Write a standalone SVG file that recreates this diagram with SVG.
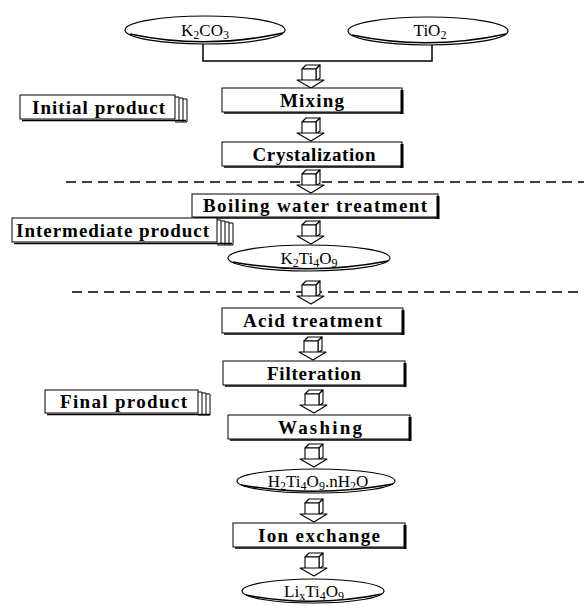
<svg xmlns="http://www.w3.org/2000/svg" width="584" height="606" viewBox="0 0 584 606">
<style>
.bx{fill:#fff;stroke:#000;stroke-width:1}
.sh{fill:none;stroke:#000;stroke-width:3}
.sb{fill:none;stroke:#000;stroke-width:1.6}
.el{fill:#fff;stroke:#000;stroke-width:1.2}
.t{font-family:"Liberation Serif",serif;font-weight:bold;font-size:19px;fill:#000}
.f{font-family:"Liberation Serif",serif;font-size:17px;fill:#000}
.s{font-size:12px}
.ln{fill:none;stroke:#000;stroke-width:1.5}
.dl{fill:none;stroke:#000;stroke-width:1.6;stroke-dasharray:10 6}
.ar{fill:#fff;stroke:#000;stroke-width:1.1;stroke-linejoin:round}
</style>
<defs>
<g id="arrow">
<path class="ar" d="M-9,4 L-5,0 L9,0 L5,4 Z"/>
<path class="ar" d="M5,4 L9,0 L9,13 L5,16 Z"/>
<path class="ar" d="M-9,4 L5,4 L5,16 L-9,16 Z"/>
<path class="ar" d="M-14,15 L13,15 L0,23 Z"/>
</g>
</defs>

<g id="connectors">
<path class="ln" d="M203,44 V61 H432 V45"/>
<line class="dl" x1="66" y1="182" x2="584" y2="182"/>
<line class="dl" x1="72" y1="292" x2="584" y2="292"/>
<use href="#arrow" x="311" y="65"/>
<use href="#arrow" x="311" y="118"/>
<use href="#arrow" x="311" y="170"/>
<use href="#arrow" x="311" y="221"/>
<use href="#arrow" x="311" y="281"/>
<use href="#arrow" x="313" y="337"/>
<use href="#arrow" x="314" y="390"/>
<use href="#arrow" x="314" y="444"/>
<use href="#arrow" x="314" y="499"/>
<use href="#arrow" x="314" y="553"/>
</g>

<g id="k2co3">
<ellipse class="el" cx="205" cy="30" rx="80" ry="14"/>
<path class="sb" d="M130,34 Q205,50 283,33"/>
<text class="f" x="205" y="36" text-anchor="middle">K<tspan class="s" dy="3">2</tspan><tspan dy="-3">CO</tspan><tspan class="s" dy="3">3</tspan></text>
</g>

<g id="tio2">
<ellipse class="el" cx="428" cy="31" rx="80" ry="14"/>
<path class="sb" d="M352,35 Q428,51 506,34"/>
<text class="f" x="430" y="36" text-anchor="middle">TiO<tspan class="s" dy="3">2</tspan></text>
</g>

<g id="initial-product">
<path class="ln" d="M175,97 H179 V121 M179,98 H183 V122 M183,99 H187 V122 H175" style="stroke-width:1"/>
<rect class="bx" x="20" y="95" width="155" height="24"/>
<line class="sb" x1="22" y1="120.5" x2="186" y2="120.5"/>
<text class="t" x="32" y="114" textLength="133" lengthAdjust="spacing">Initial product</text>
</g>

<g id="mixing">
<rect class="bx" x="222" y="88" width="180" height="24"/>
<line class="sh" x1="402" y1="90" x2="402" y2="114"/>
<line class="sb" x1="224" y1="113" x2="402" y2="113"/>
<text class="t" x="312" y="107" text-anchor="middle" textLength="64" lengthAdjust="spacing">Mixing</text>
</g>

<g id="crystalization">
<rect class="bx" x="222" y="142" width="180" height="24"/>
<line class="sh" x1="402" y1="144" x2="402" y2="168"/>
<line class="sb" x1="224" y1="167" x2="402" y2="167"/>
<text class="t" x="314" y="161" text-anchor="middle" textLength="123" lengthAdjust="spacing">Crystalization</text>
</g>

<g id="boiling">
<rect class="bx" x="192" y="194" width="246" height="23"/>
<line class="sh" x1="438" y1="196" x2="438" y2="219"/>
<line class="sb" x1="194" y1="218" x2="438" y2="218"/>
<text class="t" x="203" y="212" textLength="224" lengthAdjust="spacing">Boiling water treatment</text>
</g>

<g id="intermediate-product">
<path class="ln" d="M217,220 H221 V244 M221,221 H225 V245 M225,222 H229 V245 M229,223 H233 V245 H217" style="stroke-width:1"/>
<rect class="bx" x="12" y="218" width="205" height="24"/>
<line class="sb" x1="14" y1="243.5" x2="232" y2="243.5"/>
<text class="t" x="16" y="237" textLength="193" lengthAdjust="spacing">Intermediate product</text>
</g>

<g id="k2ti4o9">
<ellipse class="el" cx="309" cy="258" rx="81" ry="13"/>
<path class="sb" d="M233,262 Q309,276 388,261"/>
<text class="f" x="309" y="264" text-anchor="middle">K<tspan class="s" dy="3">2</tspan><tspan dy="-3">Ti</tspan><tspan class="s" dy="3">4</tspan><tspan dy="-3">O</tspan><tspan class="s" dy="3">9</tspan></text>
</g>

<g id="acid">
<rect class="bx" x="222" y="308" width="181" height="25"/>
<line class="sh" x1="403" y1="310" x2="403" y2="335"/>
<line class="sb" x1="224" y1="334" x2="403" y2="334"/>
<text class="t" x="243" y="327" textLength="139" lengthAdjust="spacing">Acid treatment</text>
</g>

<g id="filteration">
<rect class="bx" x="223" y="361" width="182" height="24"/>
<line class="sh" x1="405" y1="363" x2="405" y2="387"/>
<line class="sb" x1="225" y1="386" x2="405" y2="386"/>
<text class="t" x="314" y="380" text-anchor="middle" textLength="94" lengthAdjust="spacing">Filteration</text>
</g>

<g id="final-product">
<path class="ln" d="M198,392 H202 V415 M202,393 H206 V415 M206,394 H210 V415 H198" style="stroke-width:1"/>
<rect class="bx" x="45" y="390" width="153" height="23"/>
<line class="sb" x1="47" y1="414.5" x2="210" y2="414.5"/>
<text class="t" x="60" y="408" textLength="127" lengthAdjust="spacing">Final product</text>
</g>

<g id="washing">
<rect class="bx" x="228" y="415" width="182" height="24"/>
<line class="sh" x1="410" y1="417" x2="410" y2="441"/>
<line class="sb" x1="230" y1="440" x2="410" y2="440"/>
<text class="t" x="320" y="434" text-anchor="middle" textLength="84" lengthAdjust="spacing">Washing</text>
</g>

<g id="h2ti4o9">
<ellipse class="el" cx="316" cy="481" rx="79" ry="12"/>
<path class="sb" d="M241,485 Q316,498 393,484"/>
<text class="f" x="318" y="487" text-anchor="middle">H<tspan class="s" dy="3">2</tspan><tspan dy="-3">Ti</tspan><tspan class="s" dy="3">4</tspan><tspan dy="-3">O</tspan><tspan class="s" dy="3">9</tspan><tspan dy="-3">.nH</tspan><tspan class="s" dy="3">2</tspan><tspan dy="-3">O</tspan></text>
</g>

<g id="ion-exchange">
<rect class="bx" x="233" y="523" width="172" height="24"/>
<line class="sh" x1="405" y1="525" x2="405" y2="549"/>
<line class="sb" x1="235" y1="548" x2="405" y2="548"/>
<text class="t" x="319" y="542" text-anchor="middle" textLength="122" lengthAdjust="spacing">Ion exchange</text>
</g>

<g id="lixti4o9">
<ellipse class="el" cx="313" cy="591" rx="71" ry="12"/>
<path class="sb" d="M246,595 Q313,608 382,594"/>
<text class="f" x="314" y="597" text-anchor="middle">Li<tspan class="s" dy="3">x</tspan><tspan dy="-3">Ti</tspan><tspan class="s" dy="3">4</tspan><tspan dy="-3">O</tspan><tspan class="s" dy="3">9</tspan></text>
</g>
</svg>
